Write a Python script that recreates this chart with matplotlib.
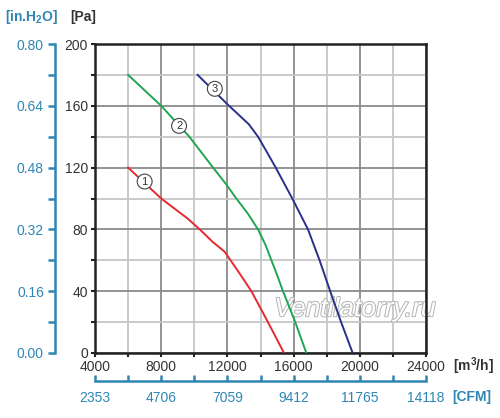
import numpy as np
import matplotlib.pyplot as plt
from matplotlib import patheffects

plt.rcParams['font.family'] = ['Liberation Sans', 'DejaVu Sans']
plt.rcParams['mathtext.default'] = 'regular'

# curve data (flow in m3/h, pressure in Pa)
flow1 = [6000, 7300, 8000, 9600, 10330, 11100, 11840, 12800, 13450, 14450, 15420]
pres1 = [120, 107, 100, 87, 80, 72, 65.5, 50.5, 40, 20, 0]
flow2 = [6000, 8000, 9700, 11135, 11940, 12540, 13250, 13850, 14300, 14660, 15020,
         15360, 16100, 16770]
pres2 = [180, 160, 140, 120, 109, 100, 90, 80, 70, 60, 50, 40, 20, 0]
flow3 = [10200, 12000, 13300, 13850, 14390, 14920, 15920, 16870, 17570, 18210, 18870, 19570]
pres3 = [180, 161, 148, 140, 130, 120, 100, 80, 60, 40, 20, 0]
curve_labels = ['1', '2', '3']
label_pos = [(7000, 111), (9080, 147), (11240, 171)]

flow_ticks = [4000, 8000, 12000, 16000, 20000, 24000]
pa_ticks = [0, 40, 80, 120, 160, 200]
cfm_labels = ['2353', '4706', '7059', '9412', '11765', '14118']
inh2o_ticks = [0.0, 0.16, 0.32, 0.48, 0.64, 0.80]

W, H = 500, 418
blue = '#2f86b4'
dark = '#222222'

fig = plt.figure(figsize=(W / 100, H / 100), dpi=100)
pos = [95 / W, 1 - 353 / H, 331 / W, 309 / H]
ax = fig.add_axes(pos)

colors = ['#e52a2f', '#1fa654', '#2a2f8a']
for f, p, c in zip([flow1, flow2, flow3], [pres1, pres2, pres3], colors):
    ax.plot(f, p, color=c, lw=1.4, zorder=3, solid_joinstyle='round')
for lab, (x, y) in zip(curve_labels, label_pos):
    ax.text(x, y, lab, ha='center', va='center', fontsize=8, color='#333333', zorder=4,
            bbox=dict(boxstyle='circle,pad=0.22', fc='white', ec='#444444', lw=0.8))

ax.set_xlim(4000, 24000)
ax.set_ylim(0, 200)
ax.set_xticks(flow_ticks)
ax.set_yticks(pa_ticks)
ax.set_xticks(np.arange(6000, 24000, 4000), minor=True)
ax.set_yticks(np.arange(20, 200, 40), minor=True)
ax.grid(which='major', color='#8a8a8a', lw=1.3)
ax.grid(which='minor', color='#c6c6c6', lw=1.3)
ax.set_axisbelow(True)
for s in ax.spines.values():
    s.set_linewidth(1.8)
    s.set_color(dark)
ax.tick_params(which='both', direction='out', length=3, width=1.5, color=dark,
               labelsize=10, labelcolor='#333333', pad=2)

# blue inch-of-water axis on the left
ax2 = fig.add_axes(pos, facecolor='none')
ax2.set_ylim(0, 0.8)
ax2.set_yticks(inh2o_ticks)
ax2.set_yticklabels(['%.2f' % v for v in inh2o_ticks])
ax2.set_yticks(np.arange(0.08, 0.8, 0.16), minor=True)
ax2.set_xticks([])
for k in ['top', 'right', 'bottom']:
    ax2.spines[k].set_visible(False)
ax2.spines['left'].set_position(('outward', 28.8))
ax2.spines['left'].set_color(blue)
ax2.spines['left'].set_linewidth(1.8)
ax2.tick_params(axis='y', which='both', direction='out', length=5, width=1.8,
                color=blue, labelcolor=blue, labelsize=10, pad=3)

# blue CFM axis at the bottom
ax3 = fig.add_axes(pos, facecolor='none')
ax3.set_xlim(4000, 24000)
ax3.set_xticks(flow_ticks)
ax3.set_xticklabels(cfm_labels)
ax3.set_xticks(np.arange(6000, 24000, 4000), minor=True)
ax3.set_yticks([])
for k in ['top', 'right', 'left']:
    ax3.spines[k].set_visible(False)
ax3.spines['bottom'].set_position(('outward', 20.2))
ax3.spines['bottom'].set_color(blue)
ax3.spines['bottom'].set_linewidth(1.8)
ax3.tick_params(axis='x', which='both', direction='in', length=4.5, width=1.8,
                color=blue, labelcolor=blue, labelsize=10, pad=7)

# unit labels
fig.text(5 / W, 1 - 17 / H, r'[in.H$_2$O]', color=blue, fontsize=10, fontweight='bold',
         ha='left', va='center')
fig.text(70 / W, 1 - 17 / H, '[Pa]', color='#333333', fontsize=10, fontweight='bold',
         ha='left', va='center')
fig.text(453 / W, 1 - 366 / H, r'[m$^3$/h]', color='#333333', fontsize=10,
         fontweight='bold', ha='left', va='center')
fig.text(452 / W, 1 - 397 / H, '[CFM]', color=blue, fontsize=10, fontweight='bold',
         ha='left', va='center')

wm = ax.text(0.785, 0.142, 'Ventilatorry.ru', transform=ax.transAxes, fontsize=19,
             style='italic', color='white', ha='center', va='center', zorder=2)
wm.set_path_effects([patheffects.Stroke(linewidth=1.5, foreground='#b8b8b8'),
                     patheffects.Normal()])

fig.savefig('out.png', dpi=100)
